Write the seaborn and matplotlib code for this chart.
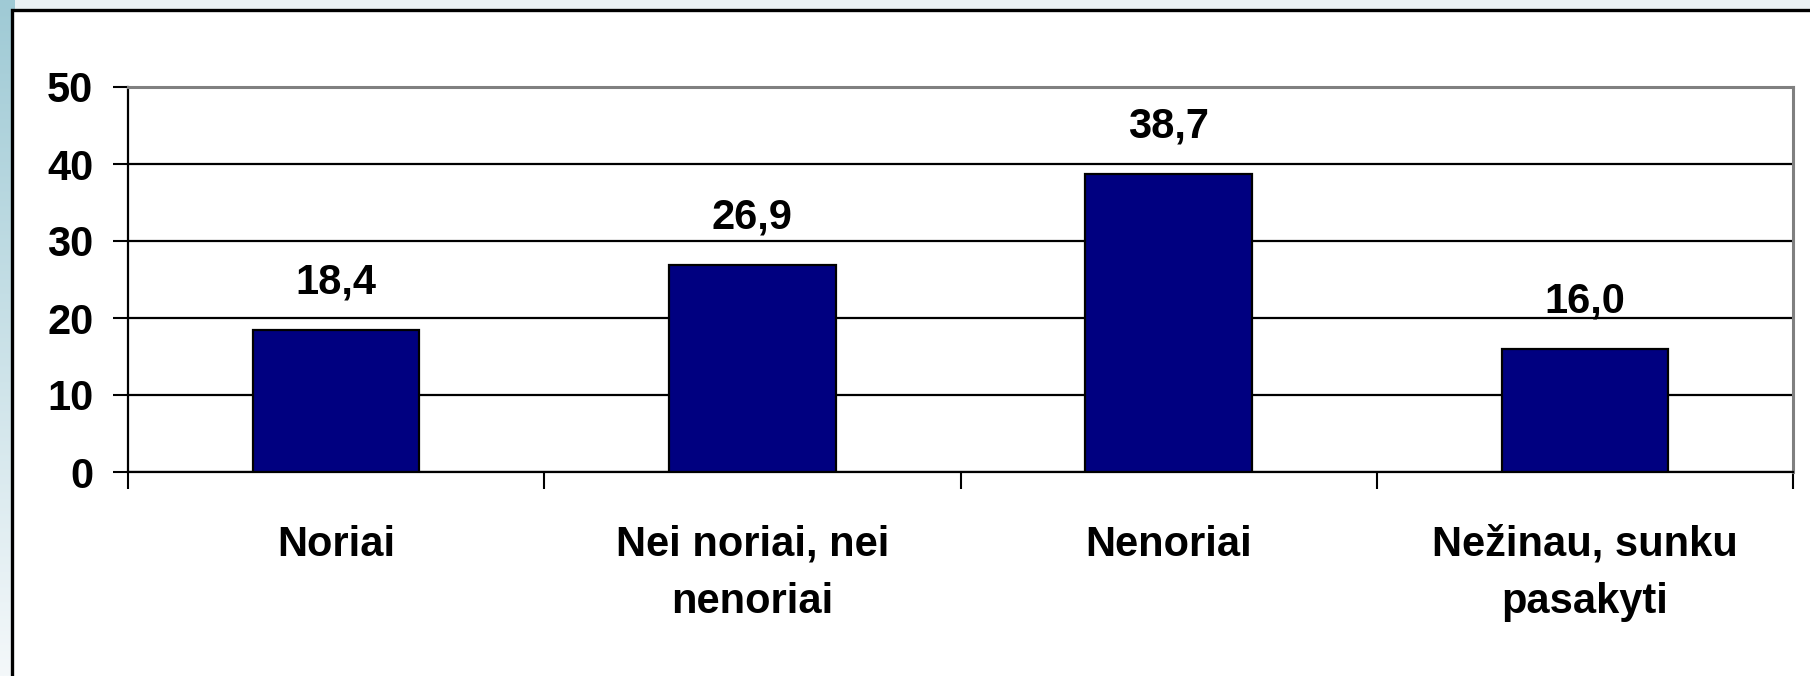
import numpy as np
import matplotlib
matplotlib.use("Agg")
import matplotlib.pyplot as plt
import seaborn as sns
from matplotlib.patches import Rectangle

categories = ["Noriai", "Nei noriai, nei\nnenoriai", "Nenoriai", "Nežinau, sunku\npasakyti"]
values = [18.4, 26.9, 38.7, 16.0]
value_labels = [f"{v:.1f}".replace(".", ",") for v in values]
y_ticks = [0, 10, 20, 30, 40, 50]

sns.set_style("white")
plt.rcParams['font.family'] = ['Liberation Sans', 'DejaVu Sans']
plt.rcParams['text.color'] = 'black'
plt.rcParams['xtick.color'] = 'black'
plt.rcParams['ytick.color'] = 'black'

fig = plt.figure(figsize=(18.1, 6.76), dpi=100, facecolor="#eaf1f4")

# slide background: light top strip, blue-to-white gradient strip at the left
bg = fig.add_axes([0, 0, 1, 1], zorder=-10)
bg.set_facecolor("#eaf1f4")
grad = np.linspace(0, 1, 256).reshape(-1, 1)
cmap = matplotlib.colors.LinearSegmentedColormap.from_list("bgc", ["#9fcad5", "#f4f8fa"])
bg.imshow(grad, aspect="auto", cmap=cmap, extent=[0, 14 / 1810, 0, 1])
bg.set_xlim(0, 1)
bg.set_ylim(0, 1)
bg.axis("off")
# white panel with black frame
bg.add_patch(Rectangle((12 / 1810, -0.05), 1.1, 1 - 10 / 676 + 0.05,
                       facecolor="white", edgecolor="black", linewidth=2.4, zorder=2))

ax = fig.add_axes([128 / 1810, 1 - 472 / 676, (1793 - 128) / 1810, (472 - 87) / 676])
sns.barplot(x=categories, y=values, color="#000080", edgecolor="black",
            linewidth=1.6, width=0.4, saturation=1, ax=ax, zorder=3)

ax.set_ylim(0, 50)
ax.set_xlim(-0.5, len(categories) - 0.5)
ax.set_yticks(y_ticks)
ax.set_yticklabels([str(t) for t in y_ticks], fontsize=30, fontweight="bold")
ax.tick_params(axis="y", length=11, width=1.5, color="black", pad=14, left=True)

ax.set_xticks(range(len(categories)))
ax.set_xticklabels(categories, fontsize=30, fontweight="bold", linespacing=1.55)
ax.tick_params(axis="x", which="major", length=0, pad=38)
ax.set_xticks(np.arange(-0.5, len(categories), 1), minor=True)
ax.tick_params(axis="x", which="minor", length=12, width=1.5, color="black", bottom=True)

ax.yaxis.grid(True, color="black", linewidth=1.6)
ax.set_axisbelow(True)
ax.set_xlabel("")
ax.set_ylabel("")

for side in ["left", "bottom"]:
    ax.spines[side].set_color("black")
    ax.spines[side].set_linewidth(1.6)
for side in ["top", "right"]:
    ax.spines[side].set_color("#808080")
    ax.spines[side].set_linewidth(2.2)

ax.bar_label(ax.containers[0], labels=value_labels, padding=20,
             fontsize=30, fontweight="bold", color="black")

fig.savefig("out.png", dpi=100, facecolor=fig.get_facecolor())
